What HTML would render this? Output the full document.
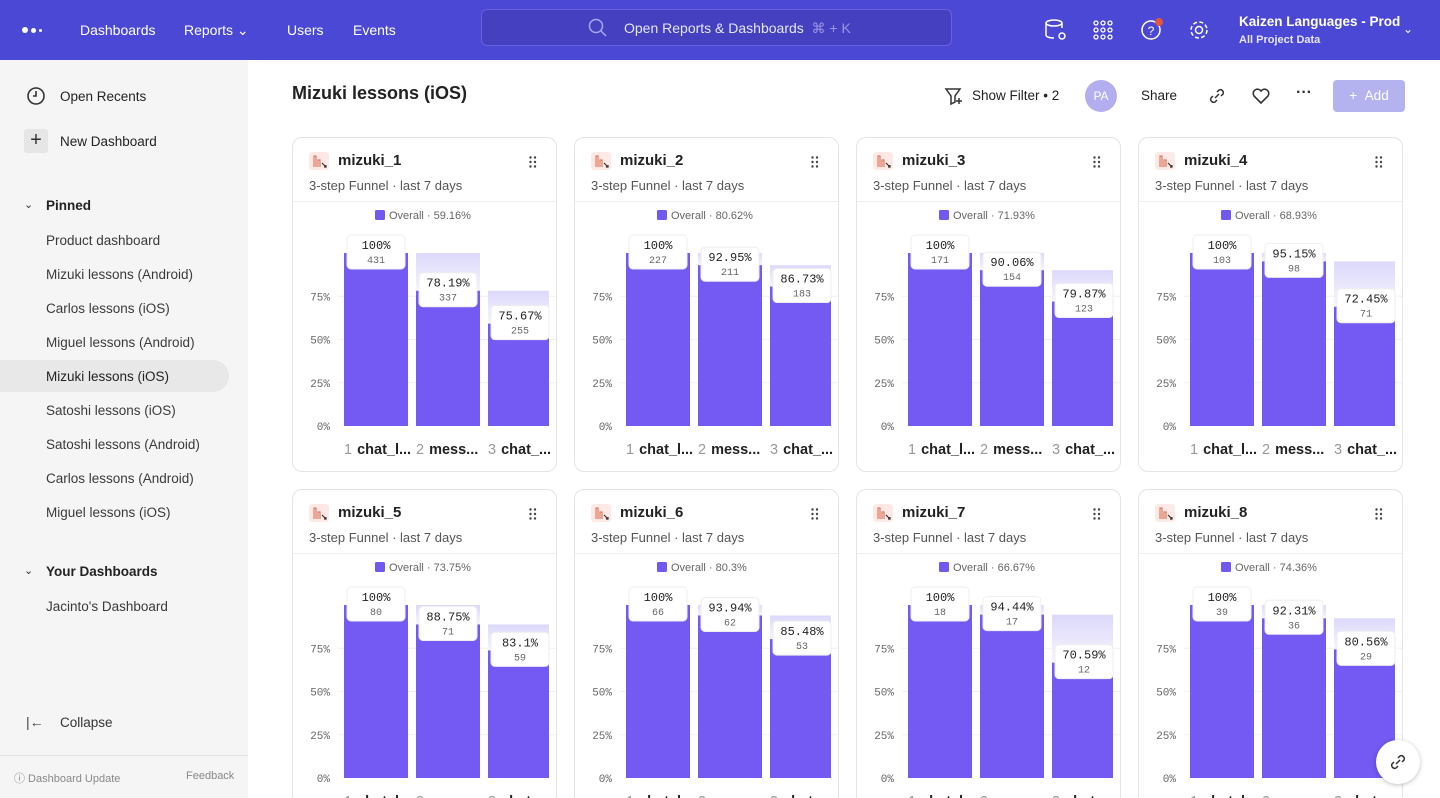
<!DOCTYPE html>
<html style="height:798px;overflow:hidden"><head><meta charset="utf-8">
<style>
*{box-sizing:border-box;margin:0;padding:0}
html,body{width:1440px;height:798px;overflow:hidden}
body{font-family:"Liberation Sans",sans-serif;background:#fff;color:#222;position:relative}
.abs{position:absolute}
#nav{left:0;top:0;width:1440px;height:60px;background:#4c48d6}
.nl{color:#fff;font-size:14px;top:22px}
#side{left:0;top:60px;width:248px;height:738px;background:#f5f5f5}
.si{left:46px;font-size:13.5px;color:#3a3a3a}
.card{position:absolute;width:265px;height:335px;border:1px solid #e4e4e4;border-radius:10px;background:#fff;overflow:hidden}
.card .t{position:absolute;left:45px;top:14px;font-size:15px;font-weight:bold;color:#222}
.card .s{position:absolute;left:16px;top:40px;font-size:13px;color:#555}
.card .d{position:absolute;left:0;top:63px;width:100%;border-top:1px solid #eee}
.card .ic{position:absolute;left:16px;top:14px;width:20px;height:18px;background:#fdeae6;border-radius:3px}
.card svg.main{position:absolute;left:0;top:0}
#cards{position:absolute;left:0;top:0;width:1440px;height:798px;overflow:hidden}
</style></head><body>
<div id="nav" class="abs">
  <div class="abs" style="left:22px;top:27px;width:6px;height:6px;border-radius:3px;background:#fff"></div>
  <div class="abs" style="left:31px;top:28px;width:5px;height:5px;border-radius:3px;background:#fff"></div>
  <div class="abs" style="left:39px;top:29px;width:3px;height:3px;border-radius:2px;background:#fff"></div>
  <div class="abs nl" style="left:80px">Dashboards</div>
  <div class="abs nl" style="left:184px">Reports &#8964;</div>
  <div class="abs nl" style="left:287px">Users</div>
  <div class="abs nl" style="left:353px">Events</div>
  <div class="abs" style="left:481px;top:9px;width:471px;height:37px;border:1px solid #6662e0;border-radius:6px;background:#4440c0">
    <svg class="abs" style="left:106px;top:8px" width="20" height="20"><circle cx="8" cy="8" r="6.5" fill="none" stroke="#aaa8ee" stroke-width="1.5"/><line x1="13" y1="13" x2="18" y2="18" stroke="#aaa8ee" stroke-width="1.5"/></svg>
    <div class="abs" style="left:142px;top:10px;font-size:14px;color:#e6e5fa">Open Reports &amp; Dashboards <span style="color:#9a97e6">&nbsp;⌘ + K</span></div>
  </div>
  <svg class="abs" style="left:1044px;top:18px" width="24" height="24"><ellipse cx="10" cy="5" rx="8" ry="3" fill="none" stroke="#fff" stroke-width="1.5"/><path d="M2 5v12c0 2 4 3 8 3M18 5v5" fill="none" stroke="#fff" stroke-width="1.5"/><circle cx="18" cy="18" r="3" fill="none" stroke="#fff" stroke-width="1.5"/></svg>
  <svg class="abs" style="left:1093px;top:20px" width="20" height="20"><g fill="none" stroke="#fff" stroke-width="1.3"><circle cx="3" cy="3" r="2"/><circle cx="10" cy="3" r="2"/><circle cx="17" cy="3" r="2"/><circle cx="3" cy="10" r="2"/><circle cx="10" cy="10" r="2"/><circle cx="17" cy="10" r="2"/><circle cx="3" cy="17" r="2"/><circle cx="10" cy="17" r="2"/><circle cx="17" cy="17" r="2"/></g></svg>
  <svg class="abs" style="left:1140px;top:16px" width="26" height="26"><circle cx="11" cy="14" r="9" fill="none" stroke="#fff" stroke-width="1.5"/><text x="11" y="19" font-size="12" fill="#fff" text-anchor="middle" font-family="Liberation Sans">?</text><circle cx="19" cy="6" r="4" fill="#e0573b"/></svg>
  <svg class="abs" style="left:1188px;top:19px" width="22" height="22"><circle cx="11" cy="11" r="3.5" fill="none" stroke="#fff" stroke-width="1.5"/><circle cx="11" cy="11" r="8" fill="none" stroke="#fff" stroke-width="1.5" stroke-dasharray="4 2.3"/></svg>
  <div class="abs" style="left:1239px;top:14px;font-size:13.5px;font-weight:bold;color:#fff">Kaizen Languages - Prod</div>
  <div class="abs" style="left:1239px;top:34px;font-size:11px;font-weight:bold;color:#e6e5fa">All Project Data</div>
  <div class="abs" style="left:1403px;top:22px;font-size:12px;color:#fff">&#8964;</div>
</div>
<div id="side" class="abs">
  <svg class="abs" style="left:26px;top:26px" width="20" height="20"><circle cx="10" cy="10" r="8" fill="none" stroke="#333" stroke-width="1.6"/><path d="M10 5v5H7" fill="none" stroke="#333" stroke-width="1.6"/></svg>
  <div class="abs" style="left:60px;top:29px;font-size:13.5px;color:#222">Open Recents</div>
  <div class="abs" style="left:24px;top:69px;width:24px;height:24px;background:#e6e6e6;border-radius:3px;text-align:center;font-size:20px;line-height:23px;color:#333">+</div>
  <div class="abs" style="left:60px;top:74px;font-size:13.5px;color:#222">New Dashboard</div>
  <div class="abs" style="left:24px;top:138px;font-size:11px;color:#333">&#8964;</div>
  <div class="abs" style="left:46px;top:138px;font-size:13.5px;font-weight:bold;color:#222">Pinned</div>
  <div class="abs si" style="top:173px">Product dashboard</div>
  <div class="abs si" style="top:207px">Mizuki lessons (Android)</div>
  <div class="abs si" style="top:241px">Carlos lessons (iOS)</div>
  <div class="abs si" style="top:275px">Miguel lessons (Android)</div>
  <div class="abs" style="left:0;top:300px;width:229px;height:32px;background:#e8e8e8;border-radius:0 16px 16px 0"></div>
  <div class="abs si" style="top:309px;color:#222">Mizuki lessons (iOS)</div>
  <div class="abs si" style="top:343px">Satoshi lessons (iOS)</div>
  <div class="abs si" style="top:377px">Satoshi lessons (Android)</div>
  <div class="abs si" style="top:411px">Carlos lessons (Android)</div>
  <div class="abs si" style="top:445px">Miguel lessons (iOS)</div>
  <div class="abs" style="left:24px;top:504px;font-size:11px;color:#333">&#8964;</div>
  <div class="abs" style="left:46px;top:504px;font-size:13.5px;font-weight:bold;color:#222">Your Dashboards</div>
  <div class="abs si" style="top:539px">Jacinto's Dashboard</div>
  <div class="abs" style="left:26px;top:654px;font-size:14px;color:#444">|&#8592;</div>
  <div class="abs" style="left:60px;top:655px;font-size:13.5px;color:#333">Collapse</div>
  <div class="abs" style="left:0;top:695px;width:248px;border-top:1px solid #e2e2e2"></div>
  <div class="abs" style="left:14px;top:710px;font-size:11px;color:#888">&#9432; Dashboard Update</div>
  <div class="abs" style="left:186px;top:710px;font-size:11px;color:#888">Feedback</div>
</div>
<div class="abs" style="left:292px;top:83px;font-size:18px;font-weight:bold;color:#222">Mizuki lessons (iOS)</div>
<svg class="abs" style="left:944px;top:86px" width="20" height="20"><path d="M2 3h14l-5 7v6l-4 2v-8z" fill="none" stroke="#333" stroke-width="1.5"/><path d="M15 12v6M12 15h6" stroke="#333" stroke-width="1.5"/></svg>
<div class="abs" style="left:972px;top:88px;font-size:13.5px;color:#222">Show Filter • 2</div>
<div class="abs" style="left:1085px;top:80px;width:32px;height:32px;border-radius:16px;background:#b3aef0;color:#fff;font-size:12px;text-align:center;line-height:32px">PA</div>
<div class="abs" style="left:1141px;top:88px;font-size:13.5px;color:#222">Share</div>
<svg class="abs" style="left:1208px;top:87px" width="18" height="18"><path d="M7 11l4-4M5 9l-2 2a3 3 0 004 4l2-2M13 9l2-2a3 3 0 00-4-4l-2 2" fill="none" stroke="#333" stroke-width="1.5"/></svg>
<svg class="abs" style="left:1251px;top:87px" width="20" height="18"><path d="M10 16L3 9a4 4 0 017-5 4 4 0 017 5z" fill="none" stroke="#333" stroke-width="1.6"/></svg>
<div class="abs" style="left:1296px;top:84px;font-size:16px;color:#333;font-weight:bold">···</div>
<div class="abs" style="left:1333px;top:80px;width:72px;height:32px;border-radius:4px;background:#b4b2ef;color:#fff;font-size:13.5px;text-align:center;line-height:32px">+ &nbsp;Add</div>
<div id="cards"></div>
<div class="abs" style="left:1376px;top:740px;width:44px;height:44px;border-radius:22px;background:#fff;box-shadow:0 1px 5px rgba(0,0,0,.25);text-align:center"><svg width="18" height="18" style="margin-top:13px"><path d="M7 11l4-4M5 9l-2 2a3 3 0 004 4l2-2M13 9l2-2a3 3 0 00-4-4l-2 2" fill="none" stroke="#333" stroke-width="1.5"/></svg></div>
<script>
const cardTitles = ["mizuki_1","mizuki_2","mizuki_3","mizuki_4","mizuki_5","mizuki_6","mizuki_7","mizuki_8"];
const stepLabels = ["chat_l...","mess...","chat_..."];
const step1Counts = [431,227,171,103,80,66,18,39];
const step2Counts = [337,211,154,98,71,62,17,36];
const step3Counts = [255,183,123,71,59,53,12,29];
const yTicks = [0,25,50,75];
const NS="http://www.w3.org/2000/svg";
function fmt(v){return String(Math.round(v*100)/100);}
function el(tag,attrs,parent){const e=document.createElementNS(NS,tag);for(const k in attrs)e.setAttribute(k,attrs[k]);parent.appendChild(e);return e;}
const y0=288, y100=115;
function yScale(p){return y0-(y0-y100)*p/100;}
function xScale(i){return 51+i*72;}
const host=document.getElementById('cards');
cardTitles.forEach((title,ci)=>{
  const col=ci%4,row=Math.floor(ci/4);
  const card=document.createElement('div');
  card.className='card';
  card.style.left=(292+col*282)+'px';card.style.top=(137+row*352)+'px';
  
  
  const counts=[step1Counts[ci],step2Counts[ci],step3Counts[ci]];
  const overall=counts[2]/counts[0]*100;
  card.innerHTML='<div class="ic"><svg width="20" height="18"><path d="M5 15V4h2v11M9 15V8h2v7" fill="none" stroke="#e07a62" stroke-width="1.2"/><path d="M13 11l4 4M15 15h2v-2" fill="none" stroke="#333" stroke-width="1.2"/></svg></div><div class="t">'+title+'</div><svg style="position:absolute;left:236px;top:18px" width="8" height="12"><g fill="#444"><circle cx="1.5" cy="1.5" r="1.2"/><circle cx="6" cy="1.5" r="1.2"/><circle cx="1.5" cy="6" r="1.2"/><circle cx="6" cy="6" r="1.2"/><circle cx="1.5" cy="10.5" r="1.2"/><circle cx="6" cy="10.5" r="1.2"/></g></svg><div class="s">3-step Funnel · last 7 days</div><div class="d"></div>';
  const svg=el('svg',{width:265,height:335,class:'main'},card);
  
  
  const defs=el('defs',{},svg);
  const g=el('linearGradient',{id:'gh'+ci,x1:0,y1:0,x2:0,y2:1},defs);
  el('stop',{offset:'0','stop-color':'#dcd8fb'},g);el('stop',{offset:'1','stop-color':'#f6f5fe'},g);
  el('rect',{x:82,y:72,width:10,height:10,rx:1.5,fill:'#7058f0'},svg);
  const lg=el('text',{x:96,y:81,'font-size':11,fill:'#666','font-family':'Liberation Sans'},svg);
  lg.textContent='Overall · '+fmt(overall)+'%';
  
  
  yTicks.forEach(t=>{
    const y=yScale(t);
    if(t>0)el('line',{x1:45,x2:265,y1:y,y2:y,stroke:'#f0f0f0'},svg);
    const tx=el('text',{x:37,y:y+4,'font-size':11,fill:'#666','text-anchor':'end','font-family':'Liberation Mono'},svg);
    tx.textContent=t+'%';
    
    
  });
  counts.forEach((c,i)=>{
    const p=c/counts[0]*100, x=xScale(i), w=i==2?61:64;
    if(i>0){
      const pp=counts[i-1]/counts[0]*100;
      const gh=el('rect',{x:x,y:yScale(pp),width:w,height:yScale(p)-yScale(pp),fill:'url(#gh'+ci+')'},svg);
      
      
    }
    const b=el('rect',{x:x,y:yScale(p),width:w,height:y0-yScale(p),fill:'#7459f2'},svg);
    
    
    const conv=i==0?100:c/counts[i-1]*100;
    const by=yScale(p)-18;
    el('rect',{x:x+3,y:by,width:58,height:34,rx:4,fill:'#fff',stroke:'#eee'},svg);
    const t1=el('text',{x:x+32,y:by+14,'font-size':12,fill:'#222','text-anchor':'middle','font-family':'Liberation Mono'},svg);
    t1.textContent=fmt(conv)+'%';
    
    
    const t2=el('text',{x:x+32,y:by+28,'font-size':10,fill:'#666','text-anchor':'middle','font-family':'Liberation Mono'},svg);
    t2.textContent=c;
    
    
    const cl=el('text',{x:x,y:316,'font-size':14.5,'font-family':'Liberation Sans'},svg);
    cl.innerHTML='<tspan fill="#999">'+(i+1)+'</tspan><tspan fill="#222" font-weight="bold" dx="5">'+stepLabels[i]+'</tspan>';
    
    
  });
  host.appendChild(card);
});
</script>
</body></html>
